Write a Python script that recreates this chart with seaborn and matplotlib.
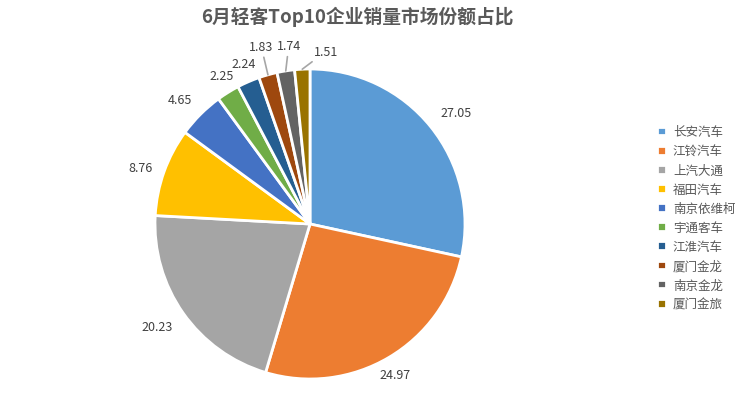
import numpy as np
import matplotlib
matplotlib.use("Agg")
import matplotlib.pyplot as plt
import seaborn as sns

# data
brands = ["长安汽车", "江铃汽车", "上汽大通", "福田汽车", "南京依维柯",
          "宇通客车", "江淮汽车", "厦门金龙", "南京金龙", "厦门金旅"]
shares = [27.05, 24.97, 20.23, 8.76, 4.65, 2.25, 2.24, 1.83, 1.74, 1.51]
title = "6月轻客Top10企业销量市场份额占比"

# excel default office colours
colors = sns.color_palette(["#5B9BD5", "#ED7D31", "#A5A5A5", "#FFC000", "#4472C4",
                            "#70AD47", "#255E91", "#9E480E", "#636363", "#997300"])

sns.set_theme(style="white")
plt.rcParams["font.family"] = ["Noto Sans CJK SC", "DejaVu Sans"]

fig = plt.figure(figsize=(7.35, 4.10), dpi=100)
R = 155.0  # pie radius in pixels
cx, cy = 310.0, 225.0  # pie centre in pixels
ax = fig.add_axes([0, 0, 620 / 735, 1])

wedges, _ = ax.pie(shares, colors=colors, startangle=90, counterclock=False,
                   wedgeprops=dict(edgecolor="white", linewidth=2))
ax.set_xlim(-cx / R, (620 - cx) / R)
ax.set_ylim(-(410 - cy) / R, cy / R)
ax.set_aspect("auto")

# label placement: small slices get pulled-out labels with leader lines
angle_shift = [0, 0, 0, 0, 0, 0, 0, -0.4, -2.2, -8.2]
leader_r = [None] * 7 + [1.19, 1.16, 1.12]

for i, w in enumerate(wedges):
    mid = np.deg2rad((w.theta1 + w.theta2) / 2)
    txt = f"{shares[i]:.2f}"
    if leader_r[i] is None:
        x, y = 1.08 * np.cos(mid), 1.08 * np.sin(mid)
        c, s = np.cos(mid), np.sin(mid)
        ha = "left" if c > 0.6 else ("right" if c < -0.6 else "center")
        va = "bottom" if s > 0.5 else ("top" if s < -0.5 else "center")
        ax.text(x, y, txt, ha=ha, va=va, fontsize=9, color="#404040")
    else:
        a = mid + np.deg2rad(angle_shift[i])
        ax.annotate(txt, xy=(np.cos(mid), np.sin(mid)),
                    xytext=(leader_r[i] * np.cos(a), leader_r[i] * np.sin(a)),
                    ha="center", va="center", fontsize=9, color="#404040",
                    arrowprops=dict(arrowstyle="-", color="#A6A6A6", lw=1.2,
                                    shrinkA=1, shrinkB=0))

fig.text(357 / 735, 1 - 17 / 410, title, ha="center", va="center",
         fontsize=13.5, fontweight="bold", color="#595959")

leg = fig.legend(wedges, brands, loc="center left",
                 bbox_to_anchor=(646 / 735, 1 - 219 / 410), frameon=False,
                 fontsize=9, handlelength=0.7, handleheight=0.7,
                 handletextpad=0.55, labelspacing=0.49)
for t in leg.get_texts():
    t.set_color("#595959")

fig.savefig("out.png", dpi=100)
